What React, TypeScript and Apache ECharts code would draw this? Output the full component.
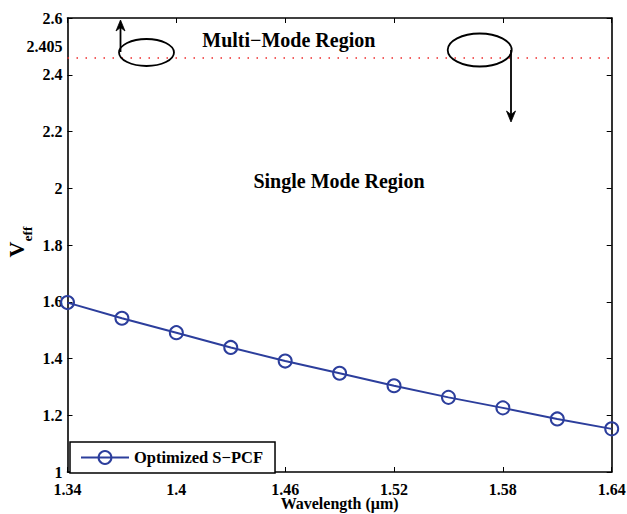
import { useEffect, useRef } from "react";
import * as echarts from "echarts";

// Effective V-parameter of the optimized S-PCF versus wavelength
const wavelengths = [1.34, 1.37, 1.4, 1.43, 1.46, 1.49, 1.52, 1.55, 1.58, 1.61, 1.64];
const veffValues = [1.597, 1.542, 1.491, 1.439, 1.391, 1.348, 1.304, 1.263, 1.226, 1.187, 1.152];
const yMin = 1;
const yMax = 2.6;
const yStep = 0.2;
// dotted single/multi-mode boundary as drawn on the plot
const boundaryLevel = [2.465];
const boundaryText = "2.405";
const seriesName = "Optimized S\u2212PCF";
const xTitle = "Wavelength (\u03bcm)";
const multiModeText = "Multi\u2212Mode Region";
const singleModeText = "Single Mode Region";

const FONT = "Liberation Serif, Times New Roman, serif";
const BLUE = "#2c3e9c";

export default function App() {
  const ref = useRef<HTMLDivElement>(null);

  useEffect(() => {
    if (!ref.current) return;
    const chart = echarts.init(ref.current, undefined, { renderer: "svg" });
    const categories = wavelengths.map((w) => String(w));

    const tickLabel = {
      color: "#000",
      fontFamily: FONT,
      fontWeight: "bold" as const,
      fontSize: 16,
    };
    const axisLine = { show: true, lineStyle: { color: "#000", width: 1.6 } };
    const axisTick = { show: true, inside: true, length: 5, lineStyle: { color: "#000", width: 1 } };

    const arrowStyle = { stroke: "#000", lineWidth: 1.8, fill: "none" };
    const textBase = { fill: "#000", textAlign: "center", textVerticalAlign: "middle", align: "center", verticalAlign: "middle" };

    chart.setOption({
      animation: false,
      backgroundColor: "#fff",
      grid: { left: 67.5, right: 15.3, top: 18, bottom: 42, containLabel: false, outerBoundsMode: "none" },
      xAxis: [
        {
          type: "category",
          data: categories,
          boundaryGap: false,
          position: "bottom",
          axisLine,
          axisTick: { ...axisTick, interval: 1 },
          axisLabel: {
            ...tickLabel,
            interval: 1,
            margin: 9,
            formatter: (v: string) => String(Number(v)),
          },
          splitLine: { show: false },
        },
        {
          type: "category",
          data: categories,
          boundaryGap: false,
          position: "top",
          axisLine,
          axisTick: { ...axisTick, interval: 1 },
          axisLabel: { show: false, interval: 1 },
          splitLine: { show: false },
        },
      ],
      yAxis: [
        {
          type: "value",
          min: yMin,
          max: yMax,
          interval: yStep,
          position: "left",
          axisLine,
          axisTick,
          axisLabel: {
            ...tickLabel,
            margin: 5,
            formatter: (v: number) => String(parseFloat(v.toFixed(3))),
          },
          splitLine: { show: false },
        },
        {
          type: "value",
          min: yMin,
          max: yMax,
          interval: yStep,
          position: "right",
          axisLine,
          axisTick,
          axisLabel: { show: false },
          splitLine: { show: false },
        },
      ],
      legend: {
        show: true,
        left: 70,
        top: 442,
        orient: "horizontal",
        padding: [7, 12, 7, 10],
        itemWidth: 48,
        itemHeight: 16,
        backgroundColor: "#fff",
        borderColor: "#000",
        borderWidth: 1.5,
        borderRadius: 0,
        textStyle: { color: "#000", fontFamily: FONT, fontWeight: "bold", fontSize: 16.5 },
        data: [seriesName],
      },
      series: [
        {
          name: seriesName,
          type: "line",
          xAxisIndex: 0,
          yAxisIndex: 0,
          data: veffValues,
          symbol: "circle",
          symbolSize: 13,
          lineStyle: { color: BLUE, width: 2 },
          itemStyle: { color: "rgba(255,255,255,0)", borderColor: BLUE, borderWidth: 2 },
          markLine: {
            silent: true,
            symbol: ["none", "none"],
            label: { show: false },
            lineStyle: { color: "#ee2a2a", width: 1.5, type: [1.5, 7.5] },
            data: boundaryLevel.map((v) => ({ yAxis: v })),
          },
          z: 3,
        },
      ],
      graphic: [
        // x-axis title
        {
          type: "text",
          x: 339.6,
          y: 503.5,
          style: { ...textBase, text: xTitle, font: `bold 16px ${FONT}` },
        },
        {
          type: "text",
          x: 62.5,
          y: 46,
          style: { ...textBase, text: boundaryText, font: `bold 16px ${FONT}`, textAlign: "right", align: "right" },
        },
        {
          type: "text",
          x: 288.8,
          y: 40,
          style: { ...textBase, text: multiModeText, font: `bold 20px ${FONT}` },
        },
        {
          type: "text",
          x: 339,
          y: 181,
          style: { ...textBase, text: singleModeText, font: `bold 20px ${FONT}` },
        },
        // y-axis title V_eff, rotated
        {
          type: "text",
          x: 16.5,
          y: 249.5,
          rotation: Math.PI / 2,
          style: { ...textBase, text: "V", font: `bold 22px ${FONT}` },
        },
        {
          type: "text",
          x: 27.5,
          y: 234,
          rotation: Math.PI / 2,
          style: { ...textBase, text: "eff", font: `bold 13.5px ${FONT}` },
        },
        // annotation ellipses
        { type: "ellipse", shape: { cx: 146.5, cy: 52.5, rx: 27.5, ry: 13.5 }, style: { stroke: "#000", lineWidth: 1.8, fill: "none" }, z: 10 },
        { type: "ellipse", shape: { cx: 479.7, cy: 50, rx: 32, ry: 16.5 }, style: { stroke: "#000", lineWidth: 1.8, fill: "none" }, z: 10 },
        // arrow pointing up into the multi-mode region
        { type: "line", shape: { x1: 120.5, y1: 52, x2: 120.5, y2: 24 }, style: arrowStyle, z: 10 },
        { type: "polygon", shape: { points: [[120.5, 20], [116, 31], [120.5, 27.5], [125, 31]] }, style: { fill: "#000", stroke: "#000", lineWidth: 0.8 }, z: 10 },
        // arrow pointing down into the single-mode region
        { type: "line", shape: { x1: 511, y1: 50, x2: 511, y2: 118 }, style: arrowStyle, z: 10 },
        { type: "polygon", shape: { points: [[511, 122], [506.5, 111], [511, 114.5], [515.5, 111]] }, style: { fill: "#000", stroke: "#000", lineWidth: 0.8 }, z: 10 },
      ],
    });

    return () => chart.dispose();
  }, []);

  return (
    <div
      ref={ref}
      style={{ position: "fixed", left: 0, top: 0, width: 627, height: 514, background: "#fff" }}
    />
  );
}
